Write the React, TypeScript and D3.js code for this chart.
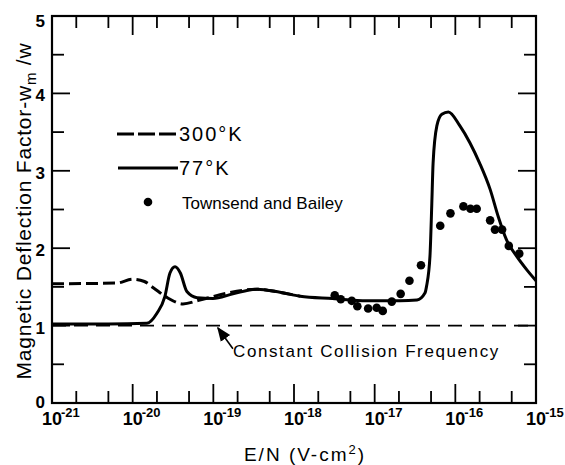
import * as d3 from "d3";

// 77 K curve (solid)
const solidE = [1e-21, 5e-21, 1.5e-20, 2.0e-20, 2.5e-20, 2.9e-20, 3.35e-20, 3.9e-20, 4.7e-20, 6.3e-20, 9.9e-20, 1.75e-19, 3.5e-19, 6.7e-19, 1.19e-18, 3.0e-18, 8.0e-18, 2.06e-17, 3.35e-17, 4.2e-17, 4.4e-17, 4.85e-17, 5.1e-17, 5.3e-17, 5.9e-17, 6.8e-17, 8.2e-17, 1.14e-16, 1.52e-16, 2.0e-16, 2.7e-16, 3.4e-16, 4.3e-16, 5.8e-16, 7.7e-16, 1e-15];
const solidV = [1.02, 1.02, 1.03, 1.16, 1.37, 1.68, 1.76, 1.68, 1.44, 1.36, 1.35, 1.41, 1.47, 1.43, 1.38, 1.35, 1.32, 1.32, 1.33, 1.42, 1.51, 1.9, 2.55, 3.1, 3.58, 3.73, 3.76, 3.58, 3.36, 3.1, 2.76, 2.41, 2.11, 1.89, 1.72, 1.58];

// 300 K curve (dashed), merges with 77 K above ~1e-18
const dashE = [1e-21, 6.4e-21, 1.0e-20, 1.4e-20, 1.8e-20, 2.7e-20, 4.2e-20, 6.8e-20, 1.48e-19, 3.5e-19, 6.7e-19, 1.19e-18];
const dashV = [1.54, 1.55, 1.6, 1.57, 1.49, 1.36, 1.28, 1.33, 1.42, 1.47, 1.43, 1.38];

// Townsend and Bailey measurements
const tbE = [3.2e-18, 3.8e-18, 5.2e-18, 6.1e-18, 8.3e-18, 1.06e-17, 1.26e-17, 1.63e-17, 2.1e-17, 2.7e-17, 3.75e-17, 6.5e-17, 8.7e-17, 1.26e-16, 1.54e-16, 1.84e-16, 2.7e-16, 3.1e-16, 3.8e-16, 4.6e-16, 6.2e-16];
const tbV = [1.39, 1.34, 1.32, 1.25, 1.22, 1.23, 1.19, 1.31, 1.41, 1.58, 1.78, 2.29, 2.45, 2.54, 2.51, 2.51, 2.36, 2.24, 2.24, 2.03, 1.93];

// constant collision frequency reference
const constV = 1.0;

const xDecades = [-21, -20, -19, -18, -17, -16, -15];
const yMajor = [0, 1, 2, 3, 4, 5];
const yMinor = [0.5, 1.5, 2.5, 3.5, 4.5];

const W = 565, H = 465;
const left = 52, right = 536, top = 16, bottom = 403;
const font = "'Liberation Sans', Arial, sans-serif";

export default function App() {
  const x = d3.scaleLog().domain([1e-21, 1e-15]).range([left, right]);
  const y = d3.scaleLinear().domain([0, 5]).range([bottom, top]);

  const line = d3.line<[number, number]>()
    .x(d => x(d[0]))
    .y(d => y(d[1]))
    .curve(d3.curveMonotoneX);

  const solid = line(solidE.map((e, i) => [e, solidV[i]]) as [number, number][]) || "";
  const dashed = line(dashE.map((e, i) => [e, dashV[i]]) as [number, number][]) || "";

  const minorX: number[] = [];
  xDecades.slice(0, -1).forEach(p => { minorX.push(2 * Math.pow(10, p), 5 * Math.pow(10, p)); });

  // arrow for the annotation, in data coordinates
  const arrowTip = [1.14e-19, 0.97];
  const arrowTail = [1.75e-19, 0.7];

  return (
    <svg width={W} height={H} style={{ position: "absolute", left: 0, top: 0, background: "#fff" }}>
      <defs>
        <marker id="ah" viewBox="0 0 10 10" refX="9" refY="5" markerWidth="9" markerHeight="9" orient="auto">
          <path d="M0,1 L10,5 L0,9 z" fill="#000" />
        </marker>
      </defs>
      {/* frame */}
      <rect x={left} y={top} width={right - left} height={bottom - top} fill="none" stroke="#000" strokeWidth={2.2} />

      {/* x ticks, bottom and top */}
      {xDecades.slice(1, -1).map(p => {
        const tx = x(Math.pow(10, p));
        return (
          <g key={"xd" + p}>
            <line x1={tx} x2={tx} y1={bottom} y2={bottom - 19} stroke="#000" strokeWidth={1.8} />
            <line x1={tx} x2={tx} y1={top} y2={top + 19} stroke="#000" strokeWidth={1.8} />
          </g>
        );
      })}
      {minorX.map((v, i) => {
        const tx = x(v);
        return (
          <g key={"xm" + i}>
            <line x1={tx} x2={tx} y1={bottom} y2={bottom - 12} stroke="#000" strokeWidth={1.8} />
            <line x1={tx} x2={tx} y1={top} y2={top + 12} stroke="#000" strokeWidth={1.8} />
          </g>
        );
      })}

      {/* y ticks, left and right */}
      {yMajor.slice(1, -1).map(v => (
        <g key={"ym" + v}>
          <line x1={left} x2={left + 18} y1={y(v)} y2={y(v)} stroke="#000" strokeWidth={1.8} />
          <line x1={right} x2={right - 18} y1={y(v)} y2={y(v)} stroke="#000" strokeWidth={1.8} />
        </g>
      ))}
      {yMinor.map(v => (
        <g key={"yn" + v}>
          <line x1={left} x2={left + 12} y1={y(v)} y2={y(v)} stroke="#000" strokeWidth={1.8} />
          <line x1={right} x2={right - 12} y1={y(v)} y2={y(v)} stroke="#000" strokeWidth={1.8} />
        </g>
      ))}

      {/* y tick labels */}
      {yMajor.map(v => (
        <text key={"yl" + v} x={left - 7} y={y(v) + (v === 5 ? 11 : v === 0 ? 5 : 8)} textAnchor="end"
          fontFamily={font} fontWeight="bold" fontSize={17}>{v}</text>
      ))}

      {/* x tick labels */}
      {xDecades.map(p => {
        const tx = x(Math.pow(10, p));
        return (
          <g key={"xl" + p} fontFamily={font} fontWeight="bold">
            <text x={tx} y={425} textAnchor="middle" fontSize={18}>10</text>
            <text x={tx + 9} y={417} textAnchor="start" fontSize={13}>{"-" + Math.abs(p)}</text>
          </g>
        );
      })}

      {/* axis titles */}
      <text x={305} y={461} textAnchor="middle" fontFamily={font} fontSize={19} letterSpacing={2}>
        <tspan>E/N (V-cm</tspan>
        <tspan dy={-7} fontSize={13}>2</tspan>
        <tspan dy={7}>)</tspan>
      </text>
      <text transform="translate(31,211) rotate(-90)" textAnchor="middle" fontFamily={font} fontSize={21} letterSpacing={0.8}>
        <tspan>Magnetic Deflection Factor-w</tspan>
        <tspan dy={5} fontSize={15}>m</tspan>
        <tspan dy={-5}> /w</tspan>
      </text>

      {/* constant collision frequency */}
      <line x1={x(1e-21)} x2={x(1e-15)} y1={y(constV)} y2={y(constV)} stroke="#000" strokeWidth={1.6} strokeDasharray="14 8" />
      <line x1={x(arrowTail[0])} y1={y(arrowTail[1])} x2={x(arrowTip[0])} y2={y(arrowTip[1])} stroke="#000" strokeWidth={1.6} markerEnd="url(#ah)" />
      <text x={233} y={357} fontFamily={font} fontSize={17} letterSpacing={1.6}>Constant Collision Frequency</text>

      {/* curves */}
      <path d={solid} fill="none" stroke="#000" strokeWidth={3} strokeLinejoin="round" />
      <path d={dashed} fill="none" stroke="#000" strokeWidth={3} strokeDasharray="12 5" />

      {/* measurements */}
      {tbE.map((e, i) => (
        <circle key={"tb" + i} cx={x(e)} cy={y(tbV[i])} r={4.3} fill="#000" />
      ))}

      {/* legend */}
      <line x1={117} x2={178} y1={134} y2={134} stroke="#000" strokeWidth={3} strokeDasharray="17 4" />
      <text x={179} y={141} fontFamily={font} fontSize={20} letterSpacing={2}>300°K</text>
      <line x1={118} x2={178} y1={168} y2={168} stroke="#000" strokeWidth={3} />
      <text x={179} y={175} fontFamily={font} fontSize={20} letterSpacing={2}>77°K</text>
      <circle cx={148} cy={202} r={4.3} fill="#000" />
      <text x={182} y={209} fontFamily={font} fontSize={17}>Townsend and Bailey</text>
    </svg>
  );
}
